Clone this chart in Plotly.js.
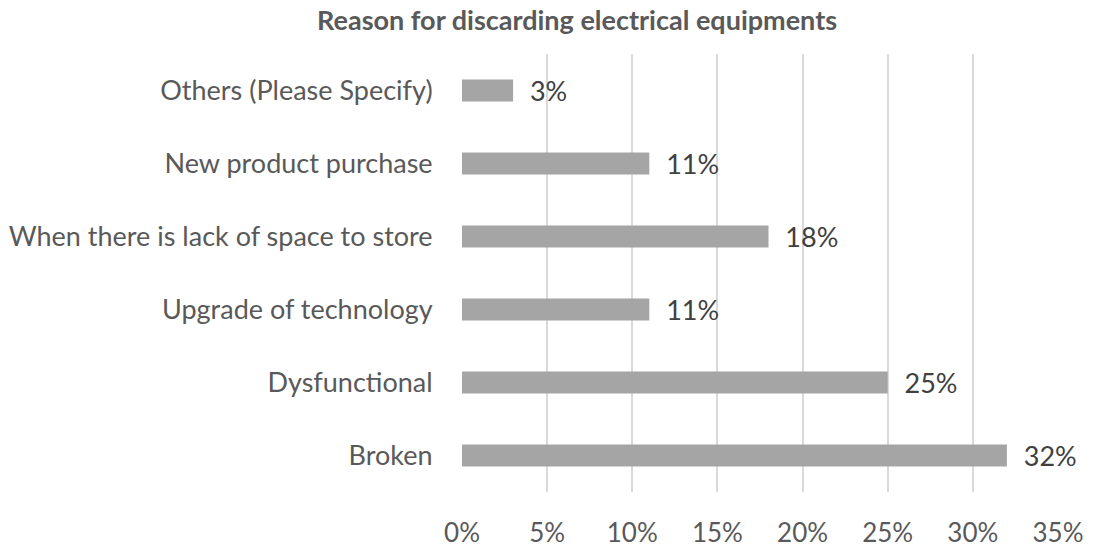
<!DOCTYPE html>
<html>
<head>
<meta charset="utf-8">
<script src="https://cdn.plot.ly/plotly-3.0.1.min.js"></script>
<style>html,body{margin:0;padding:0;background:#fff;}</style>
</head>
<body>
<div id="chart" style="width:1095px;height:550px;"></div>
<script>
const categories = ["Broken", "Dysfunctional", "Upgrade of technology", "When there is lack of space to store", "New product purchase", "Others (Please Specify)"];
const values = [0.32, 0.25, 0.11, 0.18, 0.11, 0.03];
const xTickValues = [0, 0.05, 0.10, 0.15, 0.20, 0.25, 0.30, 0.35];
const chartTitle = "Reason for discarding electrical equipments";

const FONT = "Lato, Calibri, Carlito, sans-serif";

Plotly.newPlot("chart", [{
  type: "bar",
  orientation: "h",
  y: categories,
  x: values,
  marker: {color: "#A5A5A5"},
  texttemplate: "\u00a0\u00a0%{x:.0%}",
  textposition: "outside",
  constraintext: "none",
  cliponaxis: false,
  textfont: {family: FONT, size: 27, color: "#404040"},
  hoverinfo: "none"
}], {
  width: 1095, height: 550,
  margin: {l: 462, r: 37, t: 54, b: 58},
  paper_bgcolor: "#fff", plot_bgcolor: "#fff",
  bargap: 0.7,
  showlegend: false,
  font: {family: FONT, color: "#595959"},
  title: {text: "<b>" + chartTitle + "</b>", font: {family: FONT, size: 27, color: "#595959"}, x: 0.527, xanchor: "center", y: 0.963, yanchor: "middle"},
  xaxis: {
    range: [0, 0.35], tickvals: xTickValues, tickformat: ".0%",
    showgrid: true, gridcolor: "#D9D9D9", gridwidth: 2,
    zeroline: false, showline: false,
    ticks: "outside", ticklen: 18, tickcolor: "rgba(0,0,0,0)",
    tickfont: {family: FONT, size: 26, color: "#595959"}
  },
  yaxis: {
    type: "category", categoryorder: "array", categoryarray: categories,
    showgrid: false, zeroline: false, showline: false,
    ticks: "outside", ticklen: 23, tickcolor: "rgba(0,0,0,0)",
    tickfont: {family: FONT, size: 27, color: "#595959"}
  }
}, {staticPlot: true});
</script>
</body>
</html>
